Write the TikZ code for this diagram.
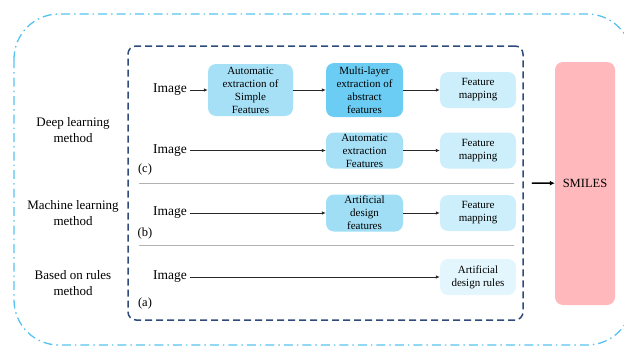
\documentclass[tikz,border=0pt]{standalone}
\usepackage{fontspec}
\setmainfont{Liberation Serif}
\usepackage{tikz}
\usetikzlibrary{arrows,positioning,calc,arrows.meta}
\tikzset{>=Latex}
\definecolor{outerblue}{RGB}{86,195,238}
\definecolor{navy}{RGB}{47,75,124}
\definecolor{simplecol}{RGB}{166,224,246}
\definecolor{deepcol}{RGB}{108,205,244}
\definecolor{mapcol}{RGB}{205,239,251}
\definecolor{rulecol}{RGB}{228,246,253}
\definecolor{smilescol}{RGB}{255,184,188}
\definecolor{arrowcol}{RGB}{40,40,40}
\colorlet{sepcol}{black!30}
\def\rowdeep{90}
\def\rowauto{150.5}
\def\rowml{213}
\def\rowrule{277}
\def\colmid{364.5}
\def\colmap{478}
\tikzset{
  featbox/.style={rectangle,rounded corners=8pt,align=center,inner sep=0pt,
    font=\fontsize{11}{13}\selectfont},
  mapbox/.style={featbox,fill=mapcol,minimum width=76pt,minimum height=36pt},
  imgnode/.style={font=\fontsize{13.5}{15}\selectfont,inner sep=3pt},
  methodlabel/.style={align=center,font=\fontsize{13}{16}\selectfont},
  caselabel/.style={font=\fontsize{12.5}{14}\selectfont,inner sep=0pt},
  flow/.style={->,draw=arrowcol,line width=0.7pt,>={Latex[length=4pt,width=3.5pt]}},
  seprule/.style={draw=sepcol,line width=0.8pt}
}
\begin{document}
\begin{tikzpicture}[x=1pt,y=-1pt]
  \clip (0,0) rectangle (624,348);

  %% outer frame, running off the right edge
  \draw[outerblue,line width=1.3pt,rounded corners=45pt,
        dash pattern=on 9pt off 4pt on 1.5pt off 4pt] (14,14) rectangle (632,345);

  %% dashed frame round the three methods
  \node[draw=navy,line width=1.5pt,dash pattern=on 7pt off 4pt,rounded corners=8pt,
        minimum width=395pt,minimum height=274pt] (methods) at (325.5,183) {};

  \node[methodlabel] (deep) at (73,130) {Deep learning\\method};
  \node[methodlabel] (ml) at (73,213) {Machine learning\\method};
  \node[methodlabel] (rules) at (73,283) {Based on rules\\method};

  %% (c) deep learning
  \node[imgnode] (img1) at (170,\rowdeep) {Image};
  \node[featbox,fill=simplecol,minimum width=85pt,minimum height=52pt] (simple) at (250.5,\rowdeep)
    {Automatic\\extraction of\\Simple\\Features};
  \node[featbox,fill=deepcol,minimum width=77pt,minimum height=54pt] (abstract) at (\colmid,\rowdeep)
    {Multi-layer\\extraction of\\abstract\\features};
  \node[mapbox] (map1) at (\colmap,\rowdeep) {Feature\\mapping};
  \draw[flow] (img1) -- (simple);
  \draw[flow] (simple) -- (abstract);
  \draw[flow] (abstract) -- (map1);

  \node[imgnode] (img2) at (170,\rowauto) {Image};
  \node[featbox,fill=simplecol,minimum width=77pt,minimum height=36pt] (autofeat) at (\colmid,\rowauto)
    {Automatic\\extraction\\Features};
  \node[mapbox] (map2) at (\colmap,\rowauto) {Feature\\mapping};
  \draw[flow] (img2) -- (autofeat);
  \draw[flow] (autofeat) -- (map2);
  \node[caselabel] (casec) at (145,169) {(c)};

  \draw[seprule] (139,183) -- (514,183);

  %% (b) machine learning
  \node[imgnode] (img3) at (170,\rowml) {Image};
  \node[featbox,fill=simplecol!90!deepcol,minimum width=77pt,minimum height=37pt] (design) at (\colmid,\rowml)
    {Artificial\\design\\features};
  \node[mapbox] (map3) at (\colmap,\rowml) {Feature\\mapping};
  \draw[flow] (img3) -- (design);
  \draw[flow] (design) -- (map3);
  \node[caselabel] (caseb) at (145,233) {(b)};

  \draw[seprule] (139,245) -- (514,245);

  %% (a) rules
  \node[imgnode] (img4) at (170,\rowrule) {Image};
  \node[mapbox,fill=rulecol] (rulebox) at (\colmap,\rowrule) {Artificial\\design rules};
  \draw[flow] (img4) -- (rulebox);
  \node[caselabel] (casea) at (145,303) {(a)};

  %% output
  \node[rectangle,rounded corners=8pt,fill=smilescol,minimum width=60pt,minimum height=243pt,
        font=\fontsize{12.5}{14}\selectfont] (smiles) at (585,183.5) {SMILES};
  \draw[->,line width=1.5pt,>={Latex[length=5pt,width=5pt]}] ([xshift=8pt]methods.east) -- (smiles);
\end{tikzpicture}
\end{document}
